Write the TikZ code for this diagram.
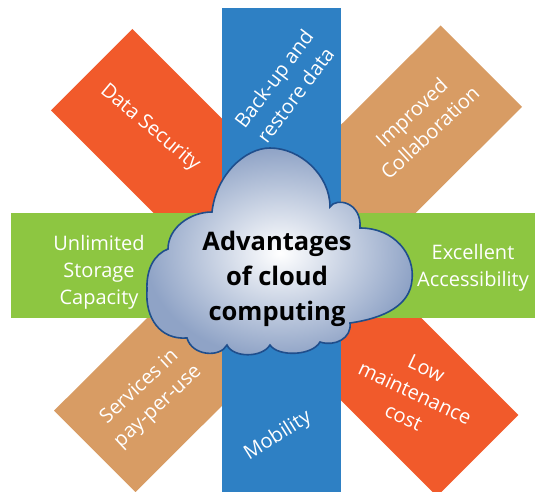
\documentclass[tikz,border=0pt]{standalone}
\usepackage{fontspec}
\setmainfont{Open Sans}
\definecolor{barorange}{HTML}{F15A2B}
\definecolor{bartan}{HTML}{D89C64}
\definecolor{barblue}{HTML}{2E80C4}
\definecolor{bargreen}{HTML}{8DC641}
\definecolor{cloudline}{HTML}{1F4E8C}
\definecolor{cloudedge}{HTML}{8FA3C6}
\begin{document}
\begin{tikzpicture}[x=1pt,y=-1pt,
  bartext/.style={text=white, font=\fontsize{20}{27}\selectfont, align=center, inner sep=0pt},
  titletext/.style={text=black, font=\fontsize{25.5}{35}\selectfont\bfseries, align=center, inner sep=0pt},
  cloudstyle/.style={draw=cloudline, line width=1.6pt, inner color=white, outer color=cloudedge}]
\clip (0,0) rectangle (535,492);
\fill[white] (0,0) rectangle (535,492);
% diagonal bars
\fill[barorange] (132.4,29) -- (518.3,415) -- (436.9,496.4) -- (51,110.4) -- cycle;
\fill[bartan] (440.6,25.5) -- (522,106.9) -- (135.4,492.1) -- (54,410.7) -- cycle;
% vertical and horizontal bars
\fill[barblue] (221.7,8.3) rectangle (341,500);
\fill[bargreen] (11,213.3) rectangle (540,318);
% cloud
\path[cloudstyle] (212,212)
  .. controls (216,175) and (245,148) .. (270,148)
  .. controls (300,148) and (330,175) .. (330,207)
  .. controls (336,197) and (362,202) .. (360,228)
  .. controls (395,228) and (415,255) .. (412,280)
  .. controls (410,305) and (385,318) .. (350,323)
  .. controls (352,338) and (335,347) .. (320,342)
  .. controls (312,356) and (278,357) .. (270,345)
  .. controls (262,358) and (233,358) .. (227,345)
  .. controls (220,358) and (192,356) .. (187,338)
  .. controls (160,340) and (145,318) .. (147,290)
  .. controls (146,268) and (155,254) .. (168,249)
  .. controls (168,228) and (190,212) .. (212,212) -- cycle;
% texts
\node[titletext] (title) at (277,279) {Advantages\\of cloud\\computing};
\node[bartext, rotate=-40] (security) at (150,128) {Data Security};
\node[bartext, rotate=53] (backup) at (284.5,87) {Back-up and\\restore data};
\node[bartext, rotate=43] (collab) at (420.6,122.5) {Improved\\Collaboration};
\node[bartext] (storage) at (99,272) {Unlimited\\Storage\\Capacity};
\node[bartext] (access) at (473,268) {Excellent\\Accessibility};
\node[bartext, rotate=43] (payuse) at (149,397) {Services in\\pay-per-use};
\node[bartext, rotate=32] (mobility) at (278,436) {Mobility};
\node[bartext, rotate=-25] (maint) at (415,393) {Low\\maintenance\\cost};
\end{tikzpicture}
\end{document}
